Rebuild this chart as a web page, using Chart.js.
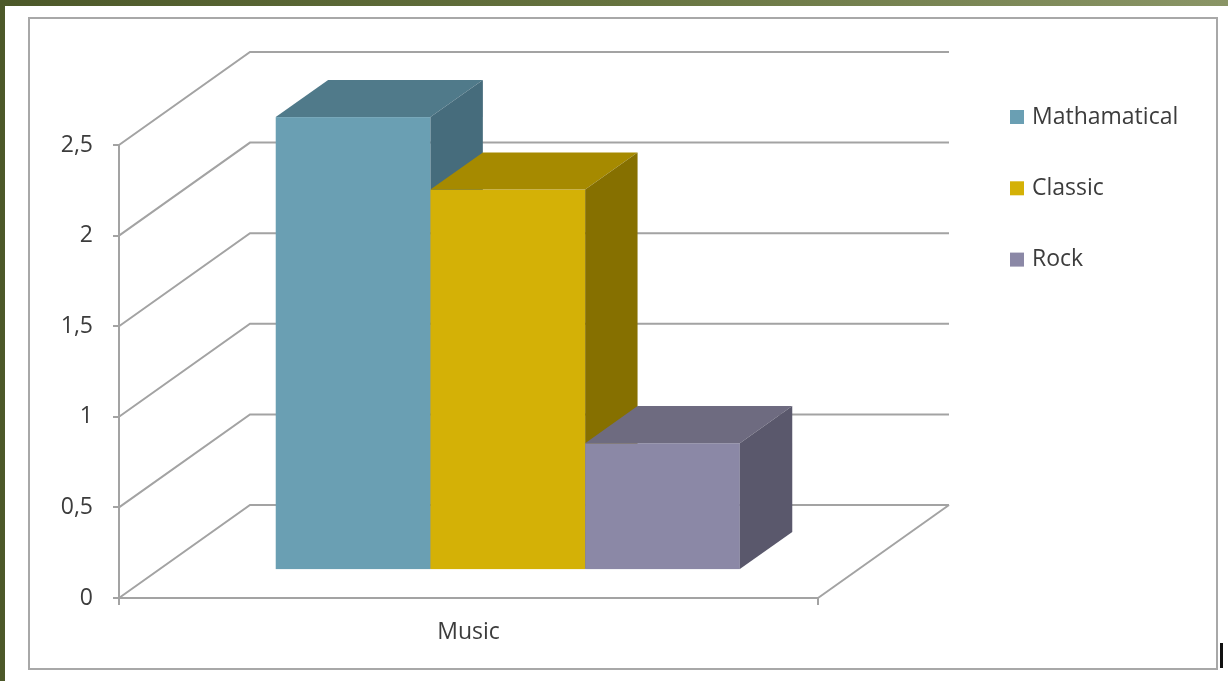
<!DOCTYPE html>
<html lang="en">
<head>
    <meta charset="UTF-8">
    <title>Music</title>
    <script src="https://cdn.jsdelivr.net/npm/chart.js"></script>
    <style>
        html, body {
            margin: 0;
            padding: 0;
            width: 1228px;
            height: 681px;
            overflow: hidden;
        }
        body {
            background: linear-gradient(90deg, #4c5829 0%, #66733f 50%, #8a9566 100%);
            position: relative;
        }
        .panel {
            position: absolute;
            left: 5px;
            top: 6px;
            right: 0;
            bottom: 0;
            background: #fff;
        }
        .frame {
            position: absolute;
            left: 28px;
            top: 17px;
            width: 1186px;
            height: 649px;
            border: 2px solid #a8a8a8;
        }
        .cursor {
            position: absolute;
            left: 1220px;
            top: 643px;
            width: 3px;
            height: 25px;
            background: #111;
        }
        #chart {
            position: absolute;
            left: 0;
            top: 0;
        }
    </style>
</head>
<body>
    <div class="panel"></div>
    <div class="frame"></div>
    <div class="cursor"></div>
    <canvas id="chart" width="1228" height="681"></canvas>

    <script>
        // data
        const categories = ['Music'];
        const seriesNames = ['Mathamatical', 'Classic', 'Rock'];
        const seriesValues = [2.5, 2.1, 0.7];
        const yMax = 2.5;
        const yStep = 0.5;

        // face colours: front / top / side
        const frontColors = ['#6a9fb3', '#d4b106', '#8b88a6'];
        const topColors = ['#507a8a', '#a68a00', '#6e6b80'];
        const sideColors = ['#466c7c', '#867000', '#5a586c'];

        const gridColor = '#a3a3a3';
        const textColor = '#3c3c3c';

        // 3d depth of the whole floor, bars sit between 30% and 70% of it
        const DEPTH_X = 131;
        const DEPTH_Y = -93;
        const BAR_FRONT = 0.3;
        const BAR_DEPTH = 0.4;

        Chart.defaults.font.family = "'Open Sans', sans-serif";
        Chart.defaults.font.size = 23;
        Chart.defaults.color = textColor;

        const box3d = {
            id: 'box3d',
            beforeDatasetsDraw(chart) {
                const ctx = chart.ctx;
                const area = chart.chartArea;
                const yScale = chart.scales.y;

                ctx.save();
                ctx.strokeStyle = gridColor;
                ctx.lineWidth = 2;

                // side wall diagonals + back wall lines
                yScale.ticks.forEach(t => {
                    const y = yScale.getPixelForValue(t.value);
                    ctx.beginPath();
                    ctx.moveTo(area.left, y);
                    ctx.lineTo(area.left + DEPTH_X, y + DEPTH_Y);
                    ctx.lineTo(area.right + DEPTH_X, y + DEPTH_Y);
                    ctx.stroke();
                });

                // right edge of the floor
                ctx.beginPath();
                ctx.moveTo(area.right, area.bottom);
                ctx.lineTo(area.right + DEPTH_X, area.bottom + DEPTH_Y);
                ctx.stroke();

                // boxes, left to right
                const fx = DEPTH_X * BAR_FRONT, fy = DEPTH_Y * BAR_FRONT;
                const bx = DEPTH_X * BAR_DEPTH, by = DEPTH_Y * BAR_DEPTH;
                chart.data.datasets.forEach((ds, i) => {
                    const meta = chart.getDatasetMeta(i);
                    meta.data.forEach(el => {
                        const p = el.getProps(['x', 'y', 'base', 'width'], true);
                        const l = p.x - p.width / 2 + fx;
                        const r = p.x + p.width / 2 + fx;
                        const top = p.y + fy;
                        const bot = p.base + fy;

                        ctx.fillStyle = frontColors[i];
                        ctx.fillRect(l, top, r - l, bot - top);

                        ctx.fillStyle = topColors[i];
                        ctx.beginPath();
                        ctx.moveTo(l, top);
                        ctx.lineTo(l + bx, top + by);
                        ctx.lineTo(r + bx, top + by);
                        ctx.lineTo(r, top);
                        ctx.closePath();
                        ctx.fill();

                        ctx.fillStyle = sideColors[i];
                        ctx.beginPath();
                        ctx.moveTo(r, top);
                        ctx.lineTo(r + bx, top + by);
                        ctx.lineTo(r + bx, bot + by);
                        ctx.lineTo(r, bot);
                        ctx.closePath();
                        ctx.fill();
                    });
                });
                ctx.restore();
                return false;
            },
            afterDraw(chart) {
                // legend on the right
                const ctx = chart.ctx;
                const x0 = chart.chartArea.right + 192;
                ctx.save();
                ctx.font = "23px 'Open Sans', sans-serif";
                ctx.textBaseline = 'middle';
                chart.data.datasets.forEach((ds, i) => {
                    const y = 117 + i * 71.3;
                    ctx.fillStyle = frontColors[i];
                    ctx.fillRect(x0, y - 7, 14, 14);
                    ctx.fillStyle = textColor;
                    ctx.fillText(ds.label, x0 + 22, y);
                });
                ctx.restore();
            }
        };

        const ctx = document.getElementById('chart').getContext('2d');
        new Chart(ctx, {
            type: 'bar',
            data: {
                labels: categories,
                datasets: seriesNames.map((name, i) => ({
                    label: name,
                    data: [seriesValues[i]],
                    backgroundColor: frontColors[i]
                }))
            },
            options: {
                responsive: false,
                animation: false,
                devicePixelRatio: 1,
                layout: {
                    padding: { left: 0, top: 145, right: 410, bottom: 33 }
                },
                datasets: {
                    bar: { categoryPercentage: 0.664, barPercentage: 1 }
                },
                plugins: {
                    legend: { display: false },
                    tooltip: { enabled: false }
                },
                scales: {
                    x: {
                        offset: true,
                        grid: {
                            offset: true,
                            drawOnChartArea: false,
                            drawTicks: true,
                            tickLength: 7,
                            color: gridColor,
                            lineWidth: 2
                        },
                        border: { display: true, color: gridColor, width: 2 },
                        ticks: { padding: 14, color: textColor },
                        afterFit(scale) { scale.height = 50; }
                    },
                    y: {
                        min: 0,
                        max: yMax,
                        grid: {
                            drawOnChartArea: false,
                            drawTicks: true,
                            tickLength: 6,
                            color: gridColor,
                            lineWidth: 2
                        },
                        border: { display: true, color: gridColor, width: 2 },
                        ticks: {
                            stepSize: yStep,
                            padding: 20,
                            color: textColor,
                            callback: v => String(v).replace('.', ',')
                        },
                        afterFit(scale) { scale.width = 119; }
                    }
                }
            },
            plugins: [box3d]
        });
    </script>
</body>
</html>
